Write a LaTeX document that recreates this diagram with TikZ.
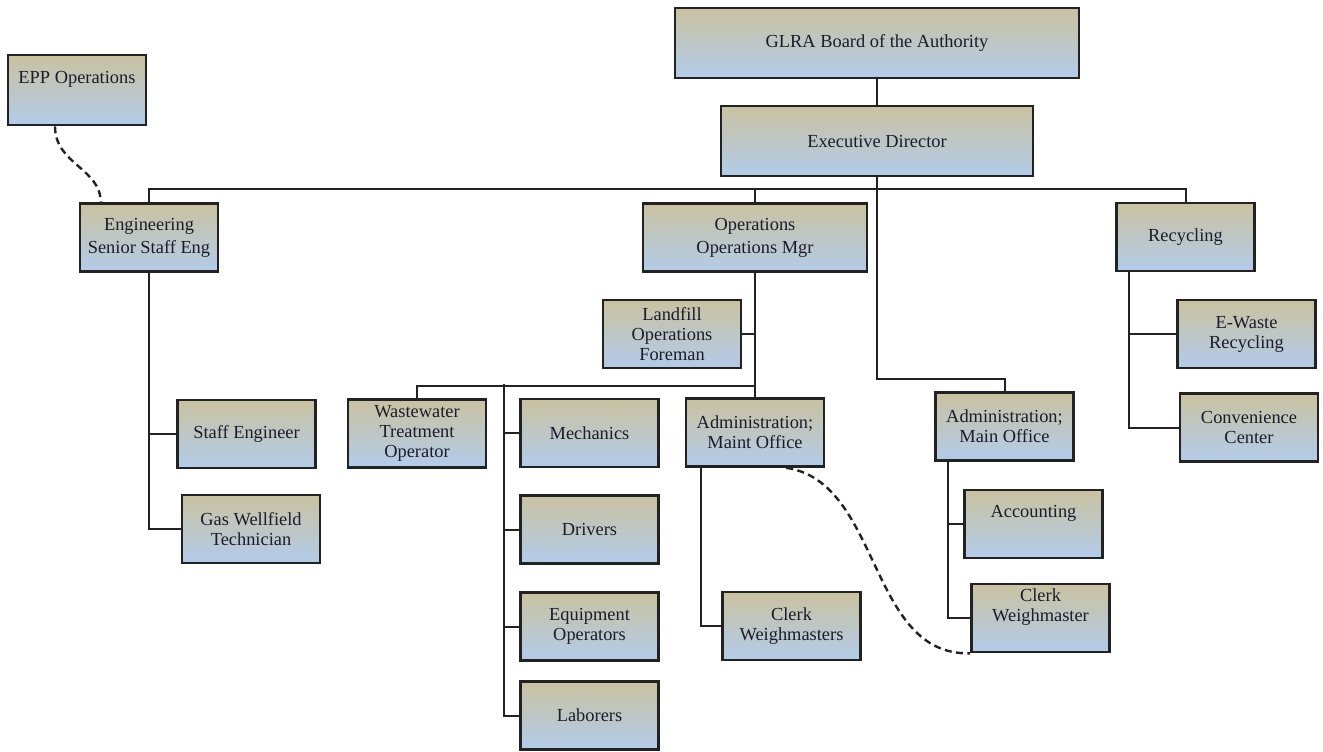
\documentclass[tikz,border=0pt]{standalone}
\usepackage{fontspec}
\setmainfont{Liberation Serif}
\usepackage{tikz}
\usetikzlibrary{positioning}
\definecolor{glratan}{HTML}{C9C2A0}
\definecolor{glrablue}{HTML}{B3CBEA}
\definecolor{glraline}{HTML}{222222}
\definecolor{glratext}{HTML}{1C1C2A}

\begin{document}
\begin{tikzpicture}[
      x=0.5pt, y=-0.5pt,
      every node/.style={font=\fontsize{9.2}{10}\selectfont, align=center, text=glratext},
      box/.style={rectangle, draw=glraline, line width=1.3pt, top color=glratan, bottom color=glrablue,
                  minimum width=69pt, minimum height=34pt, inner sep=2pt},
      link/.style={draw=glraline, line width=1pt},
      loose/.style={draw=glraline, line width=1.2pt, dash pattern=on 3.5pt off 2.2pt}
    ]
    \useasboundingbox (0,0) rectangle (1323,751);

    % top of the chart
    \node[box, minimum width=202pt, minimum height=35pt] (board) at (877,43) {GLRA Board of the Authority};
    \node[box, minimum width=156pt, minimum height=35pt] (exec)  at (877,141) {Executive Director};
    \node[box, minimum height=35pt] (epp) at (77,90) {EPP Operations\\\strut};

    % departments
    \node[box] (eng)  at (149,237.5)  {Engineering\\[1.5pt]Senior Staff Eng};
    \node[box, minimum width=112pt] (ops) at (755,237.5) {Operations\\[1.5pt]Operations Mgr};
    \node[box] (recy) at (1185.5,237) {Recycling};

    % engineering
    \node[box] (staffeng) at (246.5,434) {Staff Engineer};
    \node[box] (gasw)     at (251,529)   {Gas Wellfield\\Technician};

    % operations
    \node[box] (landfill) at (672,334)    {Landfill\\Operations\\Foreman};
    \node[box] (wwto)     at (417,433.5)  {Wastewater\\Treatment\\Operator};
    \node[box] (mech)     at (589.5,433)  {Mechanics};
    \node[box] (drivers)  at (589.5,529.5) {Drivers};
    \node[box] (equip)    at (589.5,626.5) {Equipment\\Operators};
    \node[box] (labor)    at (589.5,715.5) {Laborers};
    \node[box] (maint)    at (755,432.5)  {Administration;\\Maint Office};
    \node[box] (clerkm)   at (791.5,626)  {Clerk\\Weighmasters};

    % main office
    \node[box] (mainoff) at (1004.5,426.5) {Administration;\\Main Office};
    \node[box] (acct)    at (1033.5,524)   {Accounting\\\strut};
    \node[box] (clerkw)  at (1040.5,618)   {Clerk\\Weighmaster\\\strut};

    % recycling
    \node[box] (ewaste) at (1246.5,334) {E-Waste\\Recycling};
    \node[box] (conv)   at (1249,427.5) {Convenience\\Center};

    \coordinate (crew) at (504,384);

    \draw[link] (board.south) -- (exec.north);
    \draw[link] (exec.south) -- ++(0,12) -| (eng.north);
    \draw[link] (exec.south) -- ++(0,12) -| (ops.north);
    \draw[link] (exec.south) -- ++(0,12) -| (recy.north);
    \draw[link] (exec.south) -- ++(0,202) -| (mainoff.north);

    \draw[link] (eng.south) |- (staffeng.west);
    \draw[link] (eng.south) |- (gasw.west);

    \draw[link] (ops.south) |- (landfill.east);
    \draw[link] (ops.south) -- (maint.north);
    \draw[link] (ops.south) -- ++(0,113) -| (wwto.north);
    \draw[link] (crew) |- (mech.west);
    \draw[link] (crew) |- (drivers.west);
    \draw[link] (crew) |- (equip.west);
    \draw[link] (crew) |- (labor.west);
    \draw[link] ([xshift=8pt]maint.south west) |- (clerkm.west);

    \draw[link] ([xshift=7pt]mainoff.south west) |- (acct.west);
    \draw[link] ([xshift=7pt]mainoff.south west) |- (clerkw.west);

    \draw[link] ([xshift=7pt]recy.south west) |- (ewaste.west);
    \draw[link] ([xshift=7pt]recy.south west) |- (conv.west);

    \draw[loose] ([xshift=-11pt]epp.south) .. controls +(0,38) and +(0,-34) .. ([xshift=11pt]eng.north west);
    \draw[loose] ([xshift=-19.5pt]maint.south east) .. controls +(95,14) and +(-102,3) .. (clerkw.south west);
  \end{tikzpicture}
\end{document}
